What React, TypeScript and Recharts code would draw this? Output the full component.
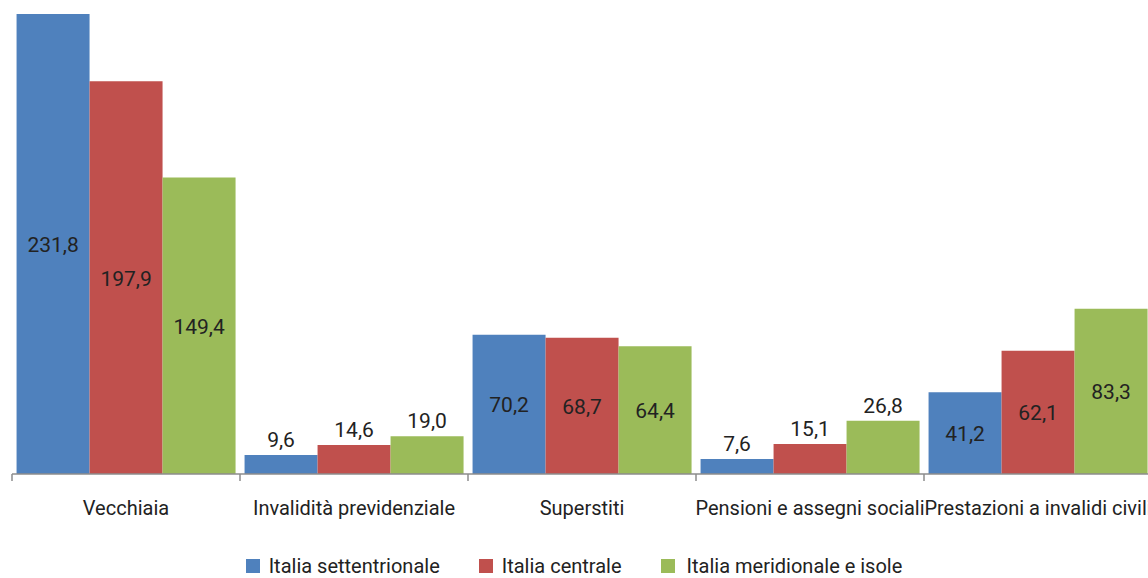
import React from 'react';
import { BarChart, Bar, XAxis, YAxis, LabelList, Legend } from 'recharts';

const categories = [
  'Vecchiaia',
  'Invalidità previdenziale',
  'Superstiti',
  'Pensioni e assegni sociali',
  'Prestazioni a invalidi civili',
];
const nord = [231.8, 9.6, 70.2, 7.6, 41.2];
const centro = [197.9, 14.6, 68.7, 15.1, 62.1];
const sud = [149.4, 19.0, 64.4, 26.8, 83.3];
const seriesKeys = ['nord', 'centro', 'sud'];
const seriesNames = ['Italia settentrionale', 'Italia centrale', 'Italia meridionale e isole'];
const colors = ['#4F81BD', '#C0504D', '#9BBB59'];

const data = categories.map((c, i) => ({ name: c, nord: nord[i], centro: centro[i], sud: sud[i] }));

const FONT = 'Roboto, sans-serif';
const TEXT = '#222222';
const fmt = (v: number) => v.toFixed(1).replace('.', ',');

const ValueLabel = (props: any) => {
  const { x, y, width, height, value } = props;
  const cx = Number(x) + Number(width) / 2;
  const inside = value >= 30;
  const cy = inside ? Number(y) + Number(height) / 2 + 1 : Number(y) - 15;
  return (
    <text x={cx} y={cy} textAnchor="middle" dominantBaseline="central" fontFamily={FONT} fontSize={21} fill={TEXT}>
      {fmt(value)}
    </text>
  );
};

const CategoryTick = (props: any) => {
  const { x, y, payload, index, visibleTicksCount } = props;
  const half = payload && payload.offset ? payload.offset : 114;
  const left = x - half;
  const right = x + half;
  return (
    <g>
      <line x1={left} y1={y} x2={left} y2={y + 7} stroke="#8c8c8c" strokeWidth={1.5} />
      {index === visibleTicksCount - 1 ? (
        <line x1={right} y1={y} x2={right} y2={y + 7} stroke="#8c8c8c" strokeWidth={1.5} />
      ) : null}
      <text x={x} y={y + 34} textAnchor="middle" dominantBaseline="central" fontFamily={FONT} fontSize={20} fill={TEXT}>
        {payload.value}
      </text>
    </g>
  );
};

const LegendContent = () => (
  <div
    style={{
      display: 'flex',
      justifyContent: 'center',
      alignItems: 'center',
      fontFamily: FONT,
      fontSize: 20,
      lineHeight: '18px',
      color: TEXT,
      height: 18,
      width: 1148,
    }}
  >
    {seriesNames.map((n, i) => (
      <div key={n} style={{ display: 'flex', alignItems: 'center', marginRight: i < seriesNames.length - 1 ? 39 : 0 }}>
        <span style={{ display: 'inline-block', width: 14, height: 14, background: colors[i], marginRight: i === 2 ? 12 : 9 }} />
        <span>{n}</span>
      </div>
    ))}
  </div>
);

export default function App() {
  return (
    <div style={{ position: 'absolute', left: 0, top: 0, width: 1148, height: 578, overflow: 'hidden', background: '#fff' }}>
      <BarChart
        width={1152}
        height={578}
        data={data}
        margin={{ top: 14, right: 0, left: 12, bottom: 0 }}
        barCategoryGap="2%"
        barGap={0}
      >
        <XAxis
          dataKey="name"
          interval={0}
          tickLine={false}
          tickSize={0}
          tickMargin={0}
          height={86}
          stroke="#8c8c8c"
          strokeWidth={1.5}
          tick={<CategoryTick />}
        />
        <YAxis hide domain={[0, 231.8]} />
        <Legend verticalAlign="bottom" content={<LegendContent />} wrapperStyle={{ left: 0, bottom: 3, height: 18 }} />
        {seriesKeys.map((k, i) => (
          <Bar key={k} dataKey={k} name={seriesNames[i]} fill={colors[i]} isAnimationActive={false}>
            <LabelList dataKey={k} content={<ValueLabel />} />
          </Bar>
        ))}
      </BarChart>
    </div>
  );
}
